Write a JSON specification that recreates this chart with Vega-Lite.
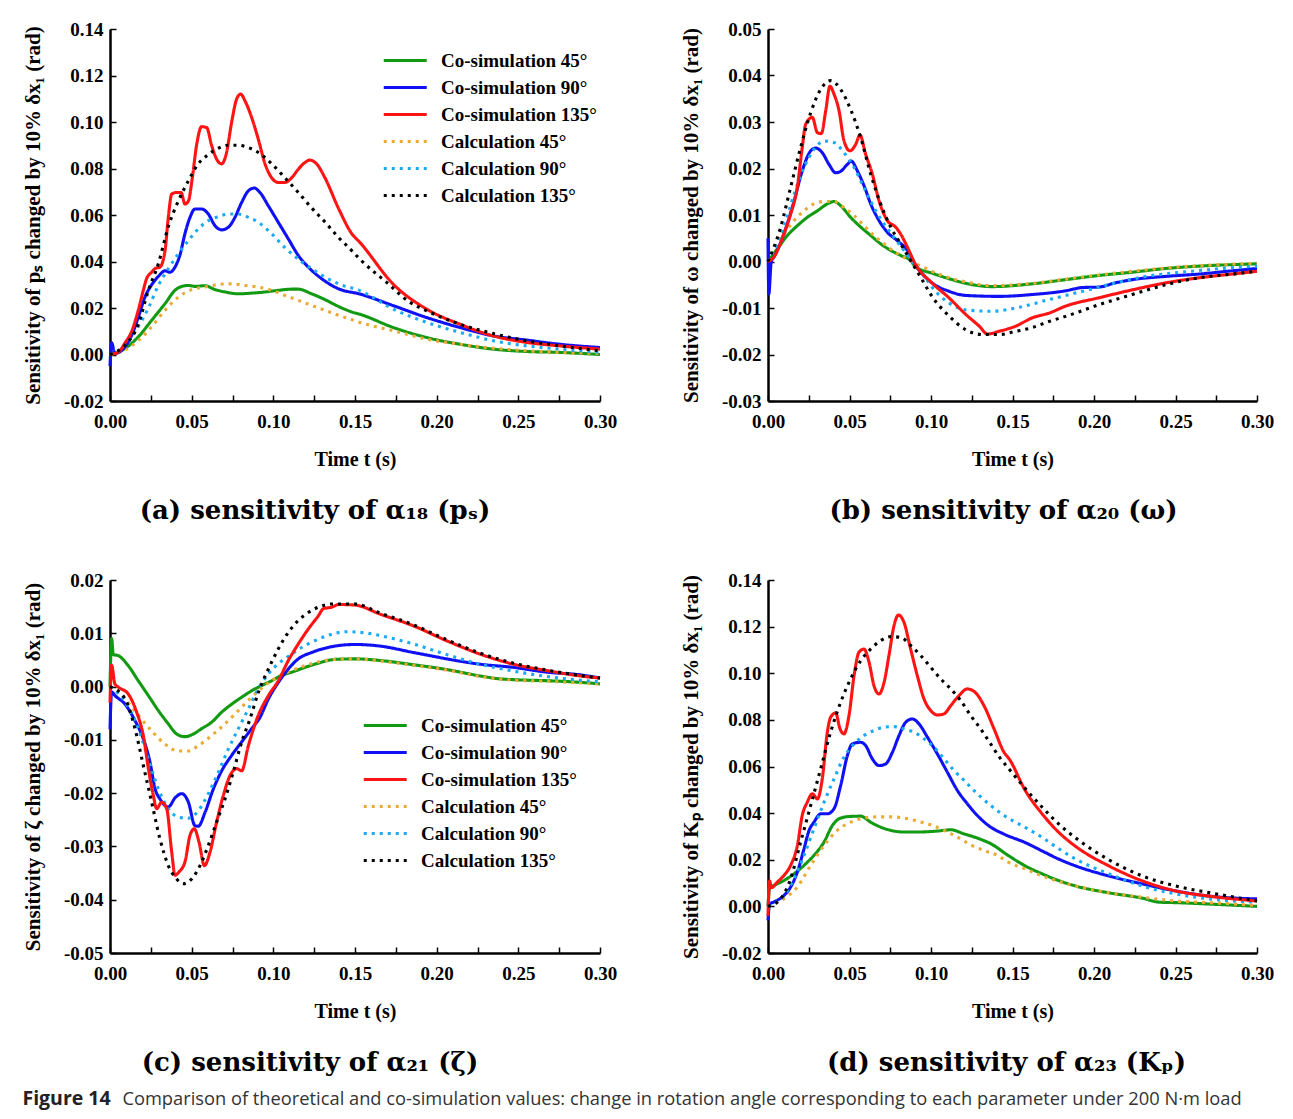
{
"$schema":"https://vega.github.io/schema/vega-lite/v6.json",
"padding":{"left":22,"top":20,"right":5,"bottom":8},
"background":"white",
"datasets":{
"a":[
{"s":"c45","t":0,"v":0},{"s":"c45","t":0.005,"v":0.001},{"s":"c45","t":0.0092,"v":0.0026},{"s":"c45","t":0.0173,"v":0.0076},{"s":"c45","t":0.0255,"v":0.0147},{"s":"c45","t":0.0337,"v":0.0219},{"s":"c45","t":0.0398,"v":0.0276},{"s":"c45","t":0.0439,"v":0.0293},{"s":"c45","t":0.048,"v":0.0297},{"s":"c45","t":0.052,"v":0.0293},{"s":"c45","t":0.0581,"v":0.0296},{"s":"c45","t":0.0643,"v":0.0279},{"s":"c45","t":0.0704,"v":0.0269},{"s":"c45","t":0.0786,"v":0.0261},{"s":"c45","t":0.0867,"v":0.0264},{"s":"c45","t":0.0949,"v":0.0269},{"s":"c45","t":0.103,"v":0.0276},{"s":"c45","t":0.1112,"v":0.0281},{"s":"c45","t":0.1153,"v":0.0281},{"s":"c45","t":0.1235,"v":0.0261},{"s":"c45","t":0.1316,"v":0.0236},{"s":"c45","t":0.1398,"v":0.0207},{"s":"c45","t":0.148,"v":0.0183},{"s":"c45","t":0.153,"v":0.0173},{"s":"c45","t":0.1735,"v":0.0116},{"s":"c45","t":0.1939,"v":0.0073},{"s":"c45","t":0.2143,"v":0.0044},{"s":"c45","t":0.2347,"v":0.0023},{"s":"c45","t":0.255,"v":0.0013},{"s":"c45","t":0.2755,"v":0.0009},{"s":"c45","t":0.3,"v":0.0},
{"s":"k45","t":0,"v":0},{"s":"k45","t":0.0092,"v":0.002},{"s":"k45","t":0.0173,"v":0.006},{"s":"k45","t":0.0255,"v":0.0119},{"s":"k45","t":0.0337,"v":0.019},{"s":"k45","t":0.0418,"v":0.0247},{"s":"k45","t":0.05,"v":0.0279},{"s":"k45","t":0.0581,"v":0.029},{"s":"k45","t":0.0663,"v":0.0301},{"s":"k45","t":0.0745,"v":0.0304},{"s":"k45","t":0.0827,"v":0.0297},{"s":"k45","t":0.0908,"v":0.029},{"s":"k45","t":0.099,"v":0.0276},{"s":"k45","t":0.1071,"v":0.0254},{"s":"k45","t":0.1153,"v":0.0233},{"s":"k45","t":0.1235,"v":0.0211},{"s":"k45","t":0.1316,"v":0.019},{"s":"k45","t":0.1398,"v":0.0169},{"s":"k45","t":0.148,"v":0.015},{"s":"k45","t":0.153,"v":0.0138},{"s":"k45","t":0.1735,"v":0.0102},{"s":"k45","t":0.1939,"v":0.0066},{"s":"k45","t":0.2143,"v":0.0044},{"s":"k45","t":0.2347,"v":0.0027},{"s":"k45","t":0.255,"v":0.0016},{"s":"k45","t":0.2755,"v":0.0009},{"s":"k45","t":0.3,"v":0.0005},
{"s":"c90","t":0,"v":-0.005},{"s":"c90","t":0.001,"v":0.005},{"s":"c90","t":0.003,"v":0.0005},{"s":"c90","t":0.0092,"v":0.0033},{"s":"c90","t":0.0133,"v":0.0083},{"s":"c90","t":0.0173,"v":0.016},{"s":"c90","t":0.0214,"v":0.0247},{"s":"c90","t":0.0255,"v":0.03},{"s":"c90","t":0.0296,"v":0.0336},{"s":"c90","t":0.0337,"v":0.036},{"s":"c90","t":0.0367,"v":0.0354},{"s":"c90","t":0.0398,"v":0.0376},{"s":"c90","t":0.0429,"v":0.043},{"s":"c90","t":0.0459,"v":0.052},{"s":"c90","t":0.049,"v":0.059},{"s":"c90","t":0.052,"v":0.0626},{"s":"c90","t":0.0561,"v":0.0626},{"s":"c90","t":0.0602,"v":0.0604},{"s":"c90","t":0.0643,"v":0.0554},{"s":"c90","t":0.0684,"v":0.0536},{"s":"c90","t":0.0724,"v":0.0547},{"s":"c90","t":0.0765,"v":0.059},{"s":"c90","t":0.0806,"v":0.0654},{"s":"c90","t":0.0847,"v":0.0704},{"s":"c90","t":0.0883,"v":0.0716},{"s":"c90","t":0.0918,"v":0.0697},{"s":"c90","t":0.0969,"v":0.064},{"s":"c90","t":0.103,"v":0.0569},{"s":"c90","t":0.1092,"v":0.0497},{"s":"c90","t":0.1153,"v":0.0426},{"s":"c90","t":0.1214,"v":0.0376},{"s":"c90","t":0.1296,"v":0.0326},{"s":"c90","t":0.1398,"v":0.0283},{"s":"c90","t":0.153,"v":0.026},{"s":"c90","t":0.1735,"v":0.021},{"s":"c90","t":0.1939,"v":0.0159},{"s":"c90","t":0.2143,"v":0.0116},{"s":"c90","t":0.2347,"v":0.008},{"s":"c90","t":0.255,"v":0.0062},{"s":"c90","t":0.2755,"v":0.0044},{"s":"c90","t":0.3,"v":0.003},
{"s":"k90","t":0,"v":0},{"s":"k90","t":0.0092,"v":0.004},{"s":"k90","t":0.0173,"v":0.012},{"s":"k90","t":0.0235,"v":0.02},{"s":"k90","t":0.0296,"v":0.0297},{"s":"k90","t":0.0357,"v":0.0369},{"s":"k90","t":0.0418,"v":0.0433},{"s":"k90","t":0.048,"v":0.049},{"s":"k90","t":0.054,"v":0.054},{"s":"k90","t":0.0602,"v":0.0576},{"s":"k90","t":0.0663,"v":0.0593},{"s":"k90","t":0.0724,"v":0.0604},{"s":"k90","t":0.0786,"v":0.0604},{"s":"k90","t":0.0847,"v":0.059},{"s":"k90","t":0.0908,"v":0.0569},{"s":"k90","t":0.099,"v":0.0519},{"s":"k90","t":0.1071,"v":0.046},{"s":"k90","t":0.1153,"v":0.041},{"s":"k90","t":0.1235,"v":0.0369},{"s":"k90","t":0.1316,"v":0.0333},{"s":"k90","t":0.1398,"v":0.0304},{"s":"k90","t":0.153,"v":0.0275},{"s":"k90","t":0.1735,"v":0.0195},{"s":"k90","t":0.1939,"v":0.0138},{"s":"k90","t":0.2143,"v":0.0095},{"s":"k90","t":0.2347,"v":0.0059},{"s":"k90","t":0.255,"v":0.0037},{"s":"k90","t":0.2755,"v":0.0023},{"s":"k90","t":0.3,"v":0.0009},
{"s":"c135","t":0,"v":0},{"s":"c135","t":0.0051,"v":0.001},{"s":"c135","t":0.0092,"v":0.005},{"s":"c135","t":0.0133,"v":0.01},{"s":"c135","t":0.0173,"v":0.019},{"s":"c135","t":0.0204,"v":0.0276},{"s":"c135","t":0.0224,"v":0.0326},{"s":"c135","t":0.0255,"v":0.0354},{"s":"c135","t":0.0276,"v":0.037},{"s":"c135","t":0.0306,"v":0.0376},{"s":"c135","t":0.0337,"v":0.0447},{"s":"c135","t":0.0357,"v":0.059},{"s":"c135","t":0.0378,"v":0.069},{"s":"c135","t":0.0408,"v":0.0697},{"s":"c135","t":0.0435,"v":0.0697},{"s":"c135","t":0.0459,"v":0.0647},{"s":"c135","t":0.048,"v":0.066},{"s":"c135","t":0.0504,"v":0.076},{"s":"c135","t":0.053,"v":0.09},{"s":"c135","t":0.0561,"v":0.098},{"s":"c135","t":0.0592,"v":0.0976},{"s":"c135","t":0.0622,"v":0.09},{"s":"c135","t":0.0653,"v":0.084},{"s":"c135","t":0.0684,"v":0.082},{"s":"c135","t":0.0714,"v":0.087},{"s":"c135","t":0.0745,"v":0.1},{"s":"c135","t":0.0776,"v":0.11},{"s":"c135","t":0.08,"v":0.112},{"s":"c135","t":0.0827,"v":0.109},{"s":"c135","t":0.0867,"v":0.102},{"s":"c135","t":0.0908,"v":0.0926},{"s":"c135","t":0.0949,"v":0.082},{"s":"c135","t":0.099,"v":0.076},{"s":"c135","t":0.103,"v":0.074},{"s":"c135","t":0.1071,"v":0.074},{"s":"c135","t":0.1112,"v":0.076},{"s":"c135","t":0.1153,"v":0.0797},{"s":"c135","t":0.1194,"v":0.0826},{"s":"c135","t":0.1224,"v":0.0836},{"s":"c135","t":0.1265,"v":0.082},{"s":"c135","t":0.1316,"v":0.076},{"s":"c135","t":0.1398,"v":0.063},{"s":"c135","t":0.148,"v":0.052},{"s":"c135","t":0.153,"v":0.0482},{"s":"c135","t":0.1735,"v":0.0302},{"s":"c135","t":0.1939,"v":0.0195},{"s":"c135","t":0.2143,"v":0.013},{"s":"c135","t":0.2347,"v":0.008},{"s":"c135","t":0.255,"v":0.0052},{"s":"c135","t":0.2755,"v":0.0037},{"s":"c135","t":0.3,"v":0.0023},
{"s":"k135","t":0,"v":0},{"s":"k135","t":0.0092,"v":0.004},{"s":"k135","t":0.0173,"v":0.013},{"s":"k135","t":0.0235,"v":0.0276},{"s":"k135","t":0.0296,"v":0.039},{"s":"k135","t":0.0357,"v":0.055},{"s":"k135","t":0.0418,"v":0.066},{"s":"k135","t":0.048,"v":0.0747},{"s":"k135","t":0.054,"v":0.082},{"s":"k135","t":0.0602,"v":0.086},{"s":"k135","t":0.0663,"v":0.0887},{"s":"k135","t":0.0724,"v":0.09},{"s":"k135","t":0.0786,"v":0.09},{"s":"k135","t":0.0847,"v":0.089},{"s":"k135","t":0.0908,"v":0.0869},{"s":"k135","t":0.099,"v":0.082},{"s":"k135","t":0.1071,"v":0.076},{"s":"k135","t":0.1153,"v":0.0697},{"s":"k135","t":0.1235,"v":0.063},{"s":"k135","t":0.1316,"v":0.057},{"s":"k135","t":0.1398,"v":0.0504},{"s":"k135","t":0.148,"v":0.0447},{"s":"k135","t":0.153,"v":0.041},{"s":"k135","t":0.1694,"v":0.031},{"s":"k135","t":0.1837,"v":0.0224},{"s":"k135","t":0.1939,"v":0.0188},{"s":"k135","t":0.2143,"v":0.013},{"s":"k135","t":0.2347,"v":0.009},{"s":"k135","t":0.255,"v":0.0059},{"s":"k135","t":0.2755,"v":0.0037},{"s":"k135","t":0.3,"v":0.0016}
],
"b":[
{"s":"c45","t":0,"v":0},{"s":"c45","t":0.0057,"v":0.0027},{"s":"c45","t":0.0119,"v":0.0056},{"s":"c45","t":0.018,"v":0.0077},{"s":"c45","t":0.0241,"v":0.0095},{"s":"c45","t":0.0303,"v":0.0109},{"s":"c45","t":0.0364,"v":0.0124},{"s":"c45","t":0.0405,"v":0.0129},{"s":"c45","t":0.0446,"v":0.012},{"s":"c45","t":0.0507,"v":0.0095},{"s":"c45","t":0.0569,"v":0.0074},{"s":"c45","t":0.063,"v":0.0056},{"s":"c45","t":0.0691,"v":0.0038},{"s":"c45","t":0.0753,"v":0.0024},{"s":"c45","t":0.0814,"v":0.0013},{"s":"c45","t":0.0875,"v":0.0002},{"s":"c45","t":0.0906,"v":-0.0012},{"s":"c45","t":0.1006,"v":-0.0025},{"s":"c45","t":0.111,"v":-0.0037},{"s":"c45","t":0.1214,"v":-0.0047},{"s":"c45","t":0.1374,"v":-0.0054},{"s":"c45","t":0.1622,"v":-0.0048},{"s":"c45","t":0.1826,"v":-0.0039},{"s":"c45","t":0.203,"v":-0.003},{"s":"c45","t":0.2235,"v":-0.0023},{"s":"c45","t":0.244,"v":-0.0015},{"s":"c45","t":0.2644,"v":-0.001},{"s":"c45","t":0.3,"v":-0.0005},
{"s":"k45","t":0,"v":0},{"s":"k45","t":0.0098,"v":0.0059},{"s":"k45","t":0.016,"v":0.0088},{"s":"k45","t":0.0221,"v":0.0109},{"s":"k45","t":0.0282,"v":0.0124},{"s":"k45","t":0.0344,"v":0.0129},{"s":"k45","t":0.0405,"v":0.0129},{"s":"k45","t":0.0466,"v":0.0116},{"s":"k45","t":0.0528,"v":0.0099},{"s":"k45","t":0.0589,"v":0.0077},{"s":"k45","t":0.065,"v":0.0056},{"s":"k45","t":0.0712,"v":0.0038},{"s":"k45","t":0.0773,"v":0.0022},{"s":"k45","t":0.0834,"v":0.0009},{"s":"k45","t":0.0896,"v":-0.0003},{"s":"k45","t":0.0957,"v":-0.0013},{"s":"k45","t":0.1039,"v":-0.0026},{"s":"k45","t":0.1121,"v":-0.0036},{"s":"k45","t":0.1214,"v":-0.0044},{"s":"k45","t":0.1374,"v":-0.0052},{"s":"k45","t":0.1622,"v":-0.0047},{"s":"k45","t":0.1826,"v":-0.0038},{"s":"k45","t":0.203,"v":-0.0029},{"s":"k45","t":0.2235,"v":-0.0021},{"s":"k45","t":0.244,"v":-0.0014},{"s":"k45","t":0.2644,"v":-0.0009},{"s":"k45","t":0.3,"v":-0.0004},
{"s":"c90","t":0,"v":0.005},{"s":"c90","t":0.0005,"v":-0.007},{"s":"c90","t":0.002,"v":0.0},{"s":"c90","t":0.0037,"v":0.001},{"s":"c90","t":0.0098,"v":0.006},{"s":"c90","t":0.016,"v":0.013},{"s":"c90","t":0.021,"v":0.0195},{"s":"c90","t":0.0262,"v":0.0238},{"s":"c90","t":0.0292,"v":0.0244},{"s":"c90","t":0.0333,"v":0.0234},{"s":"c90","t":0.0374,"v":0.0209},{"s":"c90","t":0.0415,"v":0.0191},{"s":"c90","t":0.0446,"v":0.0194},{"s":"c90","t":0.0487,"v":0.0209},{"s":"c90","t":0.0511,"v":0.0216},{"s":"c90","t":0.0548,"v":0.0195},{"s":"c90","t":0.0589,"v":0.0163},{"s":"c90","t":0.063,"v":0.0124},{"s":"c90","t":0.0681,"v":0.0088},{"s":"c90","t":0.0732,"v":0.0063},{"s":"c90","t":0.0793,"v":0.0045},{"s":"c90","t":0.0855,"v":0.0024},{"s":"c90","t":0.0906,"v":-0.0008},{"s":"c90","t":0.1006,"v":-0.0046},{"s":"c90","t":0.111,"v":-0.0064},{"s":"c90","t":0.1214,"v":-0.0073},{"s":"c90","t":0.1418,"v":-0.0075},{"s":"c90","t":0.1622,"v":-0.0071},{"s":"c90","t":0.1826,"v":-0.0063},{"s":"c90","t":0.193,"v":-0.0056},{"s":"c90","t":0.203,"v":-0.0055},{"s":"c90","t":0.213,"v":-0.0046},{"s":"c90","t":0.2235,"v":-0.0039},{"s":"c90","t":0.244,"v":-0.0032},{"s":"c90","t":0.2644,"v":-0.0027},{"s":"c90","t":0.2848,"v":-0.002},{"s":"c90","t":0.3,"v":-0.0015},
{"s":"k90","t":0,"v":0},{"s":"k90","t":0.0098,"v":0.0074},{"s":"k90","t":0.016,"v":0.0145},{"s":"k90","t":0.0221,"v":0.0202},{"s":"k90","t":0.0282,"v":0.0241},{"s":"k90","t":0.0344,"v":0.0259},{"s":"k90","t":0.0405,"v":0.0256},{"s":"k90","t":0.0466,"v":0.0234},{"s":"k90","t":0.0528,"v":0.0202},{"s":"k90","t":0.0589,"v":0.0159},{"s":"k90","t":0.065,"v":0.0116},{"s":"k90","t":0.0712,"v":0.0081},{"s":"k90","t":0.0773,"v":0.0052},{"s":"k90","t":0.0834,"v":0.0024},{"s":"k90","t":0.0896,"v":-0.0005},{"s":"k90","t":0.0957,"v":-0.003},{"s":"k90","t":0.1006,"v":-0.0055},{"s":"k90","t":0.111,"v":-0.0089},{"s":"k90","t":0.1214,"v":-0.0104},{"s":"k90","t":0.1374,"v":-0.0107},{"s":"k90","t":0.152,"v":-0.01},{"s":"k90","t":0.1724,"v":-0.0082},{"s":"k90","t":0.193,"v":-0.0064},{"s":"k90","t":0.2133,"v":-0.0046},{"s":"k90","t":0.2337,"v":-0.0031},{"s":"k90","t":0.254,"v":-0.0023},{"s":"k90","t":0.2746,"v":-0.0016},{"s":"k90","t":0.3,"v":-0.001},
{"s":"c135","t":0,"v":0},{"s":"c135","t":0.0037,"v":0.001},{"s":"c135","t":0.0098,"v":0.006},{"s":"c135","t":0.0139,"v":0.0102},{"s":"c135","t":0.018,"v":0.016},{"s":"c135","t":0.021,"v":0.0245},{"s":"c135","t":0.0231,"v":0.0295},{"s":"c135","t":0.0272,"v":0.031},{"s":"c135","t":0.0303,"v":0.0277},{"s":"c135","t":0.0327,"v":0.0275},{"s":"c135","t":0.0354,"v":0.0324},{"s":"c135","t":0.038,"v":0.0377},{"s":"c135","t":0.0405,"v":0.036},{"s":"c135","t":0.0436,"v":0.0324},{"s":"c135","t":0.0466,"v":0.026},{"s":"c135","t":0.0503,"v":0.0238},{"s":"c135","t":0.0538,"v":0.0252},{"s":"c135","t":0.0564,"v":0.0272},{"s":"c135","t":0.0599,"v":0.0231},{"s":"c135","t":0.064,"v":0.0188},{"s":"c135","t":0.0681,"v":0.0131},{"s":"c135","t":0.0732,"v":0.0088},{"s":"c135","t":0.0783,"v":0.0074},{"s":"c135","t":0.0814,"v":0.0059},{"s":"c135","t":0.0855,"v":0.0031},{"s":"c135","t":0.0906,"v":-0.0007},{"s":"c135","t":0.1006,"v":-0.0046},{"s":"c135","t":0.111,"v":-0.0078},{"s":"c135","t":0.1214,"v":-0.0114},{"s":"c135","t":0.1296,"v":-0.0139},{"s":"c135","t":0.1347,"v":-0.0156},{"s":"c135","t":0.1418,"v":-0.015},{"s":"c135","t":0.152,"v":-0.0139},{"s":"c135","t":0.1622,"v":-0.0121},{"s":"c135","t":0.1724,"v":-0.0111},{"s":"c135","t":0.1826,"v":-0.0096},{"s":"c135","t":0.203,"v":-0.0078},{"s":"c135","t":0.2235,"v":-0.0061},{"s":"c135","t":0.244,"v":-0.0046},{"s":"c135","t":0.2644,"v":-0.0035},{"s":"c135","t":0.2848,"v":-0.0027},{"s":"c135","t":0.3,"v":-0.0021},
{"s":"k135","t":0,"v":0},{"s":"k135","t":0.0078,"v":0.0074},{"s":"k135","t":0.0139,"v":0.016},{"s":"k135","t":0.02,"v":0.0245},{"s":"k135","t":0.0262,"v":0.032},{"s":"k135","t":0.0323,"v":0.037},{"s":"k135","t":0.0384,"v":0.0389},{"s":"k135","t":0.0446,"v":0.037},{"s":"k135","t":0.0507,"v":0.0327},{"s":"k135","t":0.0569,"v":0.0266},{"s":"k135","t":0.063,"v":0.0188},{"s":"k135","t":0.0691,"v":0.0124},{"s":"k135","t":0.0753,"v":0.0074},{"s":"k135","t":0.0814,"v":0.0038},{"s":"k135","t":0.0875,"v":0.0002},{"s":"k135","t":0.0937,"v":-0.0034},{"s":"k135","t":0.1006,"v":-0.0075},{"s":"k135","t":0.111,"v":-0.0117},{"s":"k135","t":0.1214,"v":-0.0147},{"s":"k135","t":0.1316,"v":-0.0157},{"s":"k135","t":0.1418,"v":-0.0157},{"s":"k135","t":0.152,"v":-0.015},{"s":"k135","t":0.1622,"v":-0.0142},{"s":"k135","t":0.1724,"v":-0.0129},{"s":"k135","t":0.1826,"v":-0.0118},{"s":"k135","t":0.203,"v":-0.0093},{"s":"k135","t":0.2235,"v":-0.0071},{"s":"k135","t":0.244,"v":-0.005},{"s":"k135","t":0.2644,"v":-0.0035},{"s":"k135","t":0.2848,"v":-0.0027},{"s":"k135","t":0.3,"v":-0.0021}
],
"c":[
{"s":"c45","t":0,"v":0},{"s":"c45","t":0.001,"v":0.009},{"s":"c45","t":0.002,"v":0.006},{"s":"c45","t":0.0051,"v":0.0058},{"s":"c45","t":0.0112,"v":0.0039},{"s":"c45","t":0.0173,"v":0.0011},{"s":"c45","t":0.0235,"v":-0.0017},{"s":"c45","t":0.0296,"v":-0.0045},{"s":"c45","t":0.0357,"v":-0.007},{"s":"c45","t":0.0408,"v":-0.0089},{"s":"c45","t":0.0459,"v":-0.0094},{"s":"c45","t":0.051,"v":-0.0089},{"s":"c45","t":0.0561,"v":-0.0079},{"s":"c45","t":0.0622,"v":-0.0067},{"s":"c45","t":0.0684,"v":-0.0048},{"s":"c45","t":0.0745,"v":-0.0033},{"s":"c45","t":0.0806,"v":-0.002},{"s":"c45","t":0.0867,"v":-0.0008},{"s":"c45","t":0.0929,"v":0.0002},{"s":"c45","t":0.099,"v":0.0011},{"s":"c45","t":0.1051,"v":0.0021},{"s":"c45","t":0.1112,"v":0.0027},{"s":"c45","t":0.1194,"v":0.0036},{"s":"c45","t":0.1276,"v":0.0044},{"s":"c45","t":0.1378,"v":0.0051},{"s":"c45","t":0.15,"v":0.0052},{"s":"c45","t":0.1653,"v":0.0049},{"s":"c45","t":0.1857,"v":0.0041},{"s":"c45","t":0.2061,"v":0.0032},{"s":"c45","t":0.2265,"v":0.002},{"s":"c45","t":0.237,"v":0.0015},{"s":"c45","t":0.247,"v":0.0013},{"s":"c45","t":0.2674,"v":0.0011},{"s":"c45","t":0.2878,"v":0.0008},{"s":"c45","t":0.3,"v":0.0005},
{"s":"k45","t":0,"v":0},{"s":"k45","t":0.0092,"v":-0.0023},{"s":"k45","t":0.0173,"v":-0.0054},{"s":"k45","t":0.0255,"v":-0.0083},{"s":"k45","t":0.0337,"v":-0.0108},{"s":"k45","t":0.0418,"v":-0.0121},{"s":"k45","t":0.048,"v":-0.0121},{"s":"k45","t":0.0541,"v":-0.0111},{"s":"k45","t":0.0622,"v":-0.0092},{"s":"k45","t":0.0704,"v":-0.007},{"s":"k45","t":0.0786,"v":-0.0045},{"s":"k45","t":0.0867,"v":-0.002},{"s":"k45","t":0.0949,"v":0.0002},{"s":"k45","t":0.1031,"v":0.0019},{"s":"k45","t":0.1112,"v":0.003},{"s":"k45","t":0.1235,"v":0.0043},{"s":"k45","t":0.1378,"v":0.0051},{"s":"k45","t":0.15,"v":0.0052},{"s":"k45","t":0.1653,"v":0.0048},{"s":"k45","t":0.1857,"v":0.004},{"s":"k45","t":0.2061,"v":0.0031},{"s":"k45","t":0.2265,"v":0.0019},{"s":"k45","t":0.247,"v":0.0012},{"s":"k45","t":0.2674,"v":0.001},{"s":"k45","t":0.3,"v":0.0005},
{"s":"c90","t":0,"v":-0.008},{"s":"c90","t":0.001,"v":-0.001},{"s":"c90","t":0.0031,"v":-0.0017},{"s":"c90","t":0.0092,"v":-0.0033},{"s":"c90","t":0.0153,"v":-0.0064},{"s":"c90","t":0.0204,"v":-0.0098},{"s":"c90","t":0.0245,"v":-0.0142},{"s":"c90","t":0.0276,"v":-0.0192},{"s":"c90","t":0.0306,"v":-0.0211},{"s":"c90","t":0.0357,"v":-0.0226},{"s":"c90","t":0.0398,"v":-0.0209},{"s":"c90","t":0.0439,"v":-0.0201},{"s":"c90","t":0.048,"v":-0.0217},{"s":"c90","t":0.052,"v":-0.0261},{"s":"c90","t":0.0541,"v":-0.0262},{"s":"c90","t":0.0582,"v":-0.0236},{"s":"c90","t":0.0633,"v":-0.0192},{"s":"c90","t":0.0684,"v":-0.0158},{"s":"c90","t":0.0745,"v":-0.0129},{"s":"c90","t":0.0806,"v":-0.0104},{"s":"c90","t":0.0867,"v":-0.0079},{"s":"c90","t":0.0918,"v":-0.0058},{"s":"c90","t":0.097,"v":-0.0023},{"s":"c90","t":0.1031,"v":0.0008},{"s":"c90","t":0.1092,"v":0.0033},{"s":"c90","t":0.1153,"v":0.0052},{"s":"c90","t":0.1235,"v":0.0064},{"s":"c90","t":0.1316,"v":0.0072},{"s":"c90","t":0.1378,"v":0.0076},{"s":"c90","t":0.15,"v":0.0079},{"s":"c90","t":0.1653,"v":0.0076},{"s":"c90","t":0.1857,"v":0.0064},{"s":"c90","t":0.196,"v":0.0058},{"s":"c90","t":0.2061,"v":0.0052},{"s":"c90","t":0.2265,"v":0.0042},{"s":"c90","t":0.247,"v":0.0036},{"s":"c90","t":0.2674,"v":0.0027},{"s":"c90","t":0.2878,"v":0.0022},{"s":"c90","t":0.3,"v":0.0016},
{"s":"k90","t":0,"v":0},{"s":"k90","t":0.0092,"v":-0.0029},{"s":"k90","t":0.0173,"v":-0.0079},{"s":"k90","t":0.0235,"v":-0.0136},{"s":"k90","t":0.0296,"v":-0.0192},{"s":"k90","t":0.0357,"v":-0.0229},{"s":"k90","t":0.0418,"v":-0.0245},{"s":"k90","t":0.048,"v":-0.0247},{"s":"k90","t":0.0541,"v":-0.0233},{"s":"k90","t":0.0602,"v":-0.0201},{"s":"k90","t":0.0663,"v":-0.0161},{"s":"k90","t":0.0725,"v":-0.0117},{"s":"k90","t":0.0786,"v":-0.0079},{"s":"k90","t":0.0847,"v":-0.0042},{"s":"k90","t":0.0908,"v":-0.0004},{"s":"k90","t":0.097,"v":0.0024},{"s":"k90","t":0.1031,"v":0.0043},{"s":"k90","t":0.1112,"v":0.0061},{"s":"k90","t":0.1194,"v":0.0077},{"s":"k90","t":0.1276,"v":0.0089},{"s":"k90","t":0.1378,"v":0.01},{"s":"k90","t":0.145,"v":0.0103},{"s":"k90","t":0.16,"v":0.0099},{"s":"k90","t":0.1694,"v":0.0093},{"s":"k90","t":0.1857,"v":0.008},{"s":"k90","t":0.2061,"v":0.006},{"s":"k90","t":0.2265,"v":0.0042},{"s":"k90","t":0.247,"v":0.0029},{"s":"k90","t":0.2674,"v":0.0019},{"s":"k90","t":0.2878,"v":0.0012},{"s":"k90","t":0.3,"v":0.0009},
{"s":"c135","t":0,"v":-0.003},{"s":"c135","t":0.001,"v":0.004},{"s":"c135","t":0.003,"v":0.0005},{"s":"c135","t":0.0051,"v":-0.0001},{"s":"c135","t":0.0112,"v":-0.0014},{"s":"c135","t":0.0163,"v":-0.0048},{"s":"c135","t":0.0204,"v":-0.0092},{"s":"c135","t":0.0235,"v":-0.0154},{"s":"c135","t":0.0265,"v":-0.0204},{"s":"c135","t":0.0286,"v":-0.0229},{"s":"c135","t":0.0316,"v":-0.0217},{"s":"c135","t":0.0347,"v":-0.0229},{"s":"c135","t":0.0378,"v":-0.0311},{"s":"c135","t":0.0398,"v":-0.0354},{"s":"c135","t":0.0422,"v":-0.0348},{"s":"c135","t":0.0459,"v":-0.0329},{"s":"c135","t":0.049,"v":-0.0279},{"s":"c135","t":0.0516,"v":-0.0267},{"s":"c135","t":0.0545,"v":-0.0292},{"s":"c135","t":0.0578,"v":-0.0336},{"s":"c135","t":0.0612,"v":-0.0311},{"s":"c135","t":0.0653,"v":-0.0254},{"s":"c135","t":0.0694,"v":-0.0204},{"s":"c135","t":0.0735,"v":-0.0167},{"s":"c135","t":0.0776,"v":-0.0154},{"s":"c135","t":0.0806,"v":-0.0158},{"s":"c135","t":0.0847,"v":-0.0111},{"s":"c135","t":0.0908,"v":-0.0054},{"s":"c135","t":0.097,"v":-0.0017},{"s":"c135","t":0.1031,"v":0.0011},{"s":"c135","t":0.1092,"v":0.0049},{"s":"c135","t":0.1153,"v":0.008},{"s":"c135","t":0.1214,"v":0.0108},{"s":"c135","t":0.1276,"v":0.0133},{"s":"c135","t":0.1306,"v":0.0146},{"s":"c135","t":0.1357,"v":0.0149},{"s":"c135","t":0.14,"v":0.0154},{"s":"c135","t":0.15,"v":0.0153},{"s":"c135","t":0.1653,"v":0.0136},{"s":"c135","t":0.1857,"v":0.0114},{"s":"c135","t":0.2061,"v":0.0086},{"s":"c135","t":0.2265,"v":0.0061},{"s":"c135","t":0.247,"v":0.0042},{"s":"c135","t":0.2674,"v":0.003},{"s":"c135","t":0.2878,"v":0.002},{"s":"c135","t":0.3,"v":0.0016},
{"s":"k135","t":0,"v":0},{"s":"k135","t":0.0092,"v":-0.0023},{"s":"k135","t":0.0153,"v":-0.0079},{"s":"k135","t":0.0204,"v":-0.0148},{"s":"k135","t":0.0255,"v":-0.0217},{"s":"k135","t":0.0306,"v":-0.0286},{"s":"k135","t":0.0357,"v":-0.0336},{"s":"k135","t":0.0408,"v":-0.0361},{"s":"k135","t":0.0449,"v":-0.037},{"s":"k135","t":0.05,"v":-0.0361},{"s":"k135","t":0.0551,"v":-0.0336},{"s":"k135","t":0.0602,"v":-0.0298},{"s":"k135","t":0.0653,"v":-0.0254},{"s":"k135","t":0.0704,"v":-0.0211},{"s":"k135","t":0.0755,"v":-0.016},{"s":"k135","t":0.0806,"v":-0.0104},{"s":"k135","t":0.0857,"v":-0.0061},{"s":"k135","t":0.0908,"v":-0.0011},{"s":"k135","t":0.097,"v":0.0033},{"s":"k135","t":0.1031,"v":0.0071},{"s":"k135","t":0.1092,"v":0.0102},{"s":"k135","t":0.1153,"v":0.0124},{"s":"k135","t":0.1214,"v":0.0139},{"s":"k135","t":0.1276,"v":0.0149},{"s":"k135","t":0.1357,"v":0.0155},{"s":"k135","t":0.15,"v":0.0155},{"s":"k135","t":0.1653,"v":0.0138},{"s":"k135","t":0.1857,"v":0.0116},{"s":"k135","t":0.2061,"v":0.0088},{"s":"k135","t":0.2265,"v":0.0063},{"s":"k135","t":0.247,"v":0.0044},{"s":"k135","t":0.2674,"v":0.0031},{"s":"k135","t":0.2878,"v":0.0021},{"s":"k135","t":0.3,"v":0.0016}
],
"d":[
{"s":"c45","t":0,"v":0},{"s":"c45","t":0.001,"v":0.008},{"s":"c45","t":0.0037,"v":0.009},{"s":"c45","t":0.0098,"v":0.0111},{"s":"c45","t":0.016,"v":0.014},{"s":"c45","t":0.0221,"v":0.0176},{"s":"c45","t":0.0282,"v":0.0219},{"s":"c45","t":0.0344,"v":0.0276},{"s":"c45","t":0.0395,"v":0.0347},{"s":"c45","t":0.0446,"v":0.0379},{"s":"c45","t":0.0507,"v":0.0386},{"s":"c45","t":0.0569,"v":0.0387},{"s":"c45","t":0.063,"v":0.0361},{"s":"c45","t":0.0691,"v":0.034},{"s":"c45","t":0.0753,"v":0.0326},{"s":"c45","t":0.0834,"v":0.0319},{"s":"c45","t":0.0916,"v":0.0319},{"s":"c45","t":0.0998,"v":0.0321},{"s":"c45","t":0.108,"v":0.0326},{"s":"c45","t":0.1121,"v":0.0329},{"s":"c45","t":0.1203,"v":0.0311},{"s":"c45","t":0.1284,"v":0.0293},{"s":"c45","t":0.1366,"v":0.0269},{"s":"c45","t":0.1479,"v":0.0216},{"s":"c45","t":0.158,"v":0.0173},{"s":"c45","t":0.1684,"v":0.0139},{"s":"c45","t":0.1786,"v":0.011},{"s":"c45","t":0.189,"v":0.0087},{"s":"c45","t":0.2093,"v":0.0058},{"s":"c45","t":0.2298,"v":0.0035},{"s":"c45","t":0.24,"v":0.0018},{"s":"c45","t":0.2503,"v":0.0016},{"s":"c45","t":0.2707,"v":0.001},{"s":"c45","t":0.3,"v":0.0},
{"s":"k45","t":0,"v":0},{"s":"k45","t":0.0098,"v":0.0033},{"s":"k45","t":0.018,"v":0.0083},{"s":"k45","t":0.0262,"v":0.0176},{"s":"k45","t":0.0344,"v":0.0261},{"s":"k45","t":0.0425,"v":0.0326},{"s":"k45","t":0.0507,"v":0.0361},{"s":"k45","t":0.0589,"v":0.0379},{"s":"k45","t":0.0671,"v":0.0384},{"s":"k45","t":0.0753,"v":0.0384},{"s":"k45","t":0.0834,"v":0.0379},{"s":"k45","t":0.0916,"v":0.0366},{"s":"k45","t":0.0998,"v":0.035},{"s":"k45","t":0.108,"v":0.0326},{"s":"k45","t":0.1162,"v":0.0297},{"s":"k45","t":0.1243,"v":0.0264},{"s":"k45","t":0.1325,"v":0.024},{"s":"k45","t":0.1407,"v":0.0219},{"s":"k45","t":0.1479,"v":0.0188},{"s":"k45","t":0.158,"v":0.016},{"s":"k45","t":0.1684,"v":0.013},{"s":"k45","t":0.189,"v":0.0087},{"s":"k45","t":0.2093,"v":0.0058},{"s":"k45","t":0.2298,"v":0.0039},{"s":"k45","t":0.2503,"v":0.0023},{"s":"k45","t":0.2707,"v":0.0016},{"s":"k45","t":0.3,"v":0.0004},
{"s":"c90","t":0,"v":-0.006},{"s":"c90","t":0.001,"v":0.001},{"s":"c90","t":0.0037,"v":0.0019},{"s":"c90","t":0.0098,"v":0.0047},{"s":"c90","t":0.0139,"v":0.0083},{"s":"c90","t":0.018,"v":0.0147},{"s":"c90","t":0.0221,"v":0.0247},{"s":"c90","t":0.0252,"v":0.0326},{"s":"c90","t":0.0282,"v":0.0361},{"s":"c90","t":0.0323,"v":0.0397},{"s":"c90","t":0.0364,"v":0.0397},{"s":"c90","t":0.0405,"v":0.0419},{"s":"c90","t":0.0446,"v":0.0519},{"s":"c90","t":0.0487,"v":0.0647},{"s":"c90","t":0.0517,"v":0.0697},{"s":"c90","t":0.0569,"v":0.0704},{"s":"c90","t":0.0599,"v":0.069},{"s":"c90","t":0.064,"v":0.0633},{"s":"c90","t":0.0681,"v":0.0604},{"s":"c90","t":0.0722,"v":0.0611},{"s":"c90","t":0.0763,"v":0.0661},{"s":"c90","t":0.0804,"v":0.0733},{"s":"c90","t":0.0845,"v":0.079},{"s":"c90","t":0.0886,"v":0.0804},{"s":"c90","t":0.0926,"v":0.0783},{"s":"c90","t":0.0978,"v":0.0726},{"s":"c90","t":0.1039,"v":0.0654},{"s":"c90","t":0.11,"v":0.0576},{"s":"c90","t":0.1162,"v":0.0497},{"s":"c90","t":0.1223,"v":0.044},{"s":"c90","t":0.1284,"v":0.039},{"s":"c90","t":0.1366,"v":0.034},{"s":"c90","t":0.1448,"v":0.031},{"s":"c90","t":0.158,"v":0.0273},{"s":"c90","t":0.1684,"v":0.0237},{"s":"c90","t":0.1786,"v":0.0202},{"s":"c90","t":0.189,"v":0.0173},{"s":"c90","t":0.2093,"v":0.013},{"s":"c90","t":0.2298,"v":0.0096},{"s":"c90","t":0.2503,"v":0.0066},{"s":"c90","t":0.2707,"v":0.0044},{"s":"c90","t":0.3,"v":0.0032},
{"s":"k90","t":0,"v":0},{"s":"k90","t":0.0098,"v":0.0047},{"s":"k90","t":0.016,"v":0.0119},{"s":"k90","t":0.0221,"v":0.0219},{"s":"k90","t":0.0282,"v":0.0333},{"s":"k90","t":0.0344,"v":0.0447},{"s":"k90","t":0.0405,"v":0.0547},{"s":"k90","t":0.0466,"v":0.064},{"s":"k90","t":0.0528,"v":0.0697},{"s":"k90","t":0.0589,"v":0.0733},{"s":"k90","t":0.065,"v":0.0754},{"s":"k90","t":0.0712,"v":0.0769},{"s":"k90","t":0.0773,"v":0.0771},{"s":"k90","t":0.0834,"v":0.0761},{"s":"k90","t":0.0896,"v":0.0747},{"s":"k90","t":0.0957,"v":0.0719},{"s":"k90","t":0.1018,"v":0.0683},{"s":"k90","t":0.108,"v":0.0633},{"s":"k90","t":0.1141,"v":0.0583},{"s":"k90","t":0.1203,"v":0.054},{"s":"k90","t":0.1284,"v":0.0483},{"s":"k90","t":0.1366,"v":0.0433},{"s":"k90","t":0.1448,"v":0.039},{"s":"k90","t":0.158,"v":0.0338},{"s":"k90","t":0.1684,"v":0.0295},{"s":"k90","t":0.1786,"v":0.0246},{"s":"k90","t":0.189,"v":0.0202},{"s":"k90","t":0.2093,"v":0.0139},{"s":"k90","t":0.2298,"v":0.0087},{"s":"k90","t":0.2503,"v":0.0053},{"s":"k90","t":0.2707,"v":0.0032},{"s":"k90","t":0.3,"v":0.0018},
{"s":"c135","t":0,"v":-0.004},{"s":"c135","t":0.001,"v":0.011},{"s":"c135","t":0.002,"v":0.008},{"s":"c135","t":0.0057,"v":0.0104},{"s":"c135","t":0.0098,"v":0.0133},{"s":"c135","t":0.0139,"v":0.0176},{"s":"c135","t":0.018,"v":0.0261},{"s":"c135","t":0.021,"v":0.039},{"s":"c135","t":0.0241,"v":0.0447},{"s":"c135","t":0.0272,"v":0.0483},{"s":"c135","t":0.0303,"v":0.0461},{"s":"c135","t":0.0333,"v":0.0547},{"s":"c135","t":0.0364,"v":0.0747},{"s":"c135","t":0.0384,"v":0.0811},{"s":"c135","t":0.0415,"v":0.083},{"s":"c135","t":0.0442,"v":0.0761},{"s":"c135","t":0.0466,"v":0.074},{"s":"c135","t":0.0497,"v":0.0819},{"s":"c135","t":0.0528,"v":0.099},{"s":"c135","t":0.0558,"v":0.109},{"s":"c135","t":0.0589,"v":0.1104},{"s":"c135","t":0.062,"v":0.1047},{"s":"c135","t":0.065,"v":0.0947},{"s":"c135","t":0.0681,"v":0.0911},{"s":"c135","t":0.0712,"v":0.0961},{"s":"c135","t":0.0742,"v":0.1076},{"s":"c135","t":0.0773,"v":0.1204},{"s":"c135","t":0.08,"v":0.125},{"s":"c135","t":0.0834,"v":0.1219},{"s":"c135","t":0.0875,"v":0.1104},{"s":"c135","t":0.0916,"v":0.099},{"s":"c135","t":0.0957,"v":0.089},{"s":"c135","t":0.0998,"v":0.084},{"s":"c135","t":0.1039,"v":0.0821},{"s":"c135","t":0.108,"v":0.0826},{"s":"c135","t":0.1121,"v":0.0861},{"s":"c135","t":0.1172,"v":0.0904},{"s":"c135","t":0.1223,"v":0.0933},{"s":"c135","t":0.1274,"v":0.0916},{"s":"c135","t":0.1325,"v":0.0861},{"s":"c135","t":0.1387,"v":0.0761},{"s":"c135","t":0.1448,"v":0.0661},{"s":"c135","t":0.1479,"v":0.0633},{"s":"c135","t":0.158,"v":0.0495},{"s":"c135","t":0.1684,"v":0.0395},{"s":"c135","t":0.1786,"v":0.0316},{"s":"c135","t":0.189,"v":0.0256},{"s":"c135","t":0.2093,"v":0.0173},{"s":"c135","t":0.2298,"v":0.0109},{"s":"c135","t":0.2503,"v":0.0066},{"s":"c135","t":0.2707,"v":0.0044},{"s":"c135","t":0.3,"v":0.0023},
{"s":"k135","t":0,"v":0},{"s":"k135","t":0.0078,"v":0.0033},{"s":"k135","t":0.0139,"v":0.0119},{"s":"k135","t":0.02,"v":0.0276},{"s":"k135","t":0.0262,"v":0.0433},{"s":"k135","t":0.0323,"v":0.059},{"s":"k135","t":0.0384,"v":0.0747},{"s":"k135","t":0.0446,"v":0.0876},{"s":"k135","t":0.0507,"v":0.0976},{"s":"k135","t":0.0569,"v":0.1054},{"s":"k135","t":0.063,"v":0.1104},{"s":"k135","t":0.0691,"v":0.114},{"s":"k135","t":0.0753,"v":0.1157},{"s":"k135","t":0.0814,"v":0.1154},{"s":"k135","t":0.0875,"v":0.1119},{"s":"k135","t":0.0937,"v":0.1076},{"s":"k135","t":0.0998,"v":0.1026},{"s":"k135","t":0.1059,"v":0.0976},{"s":"k135","t":0.1121,"v":0.0933},{"s":"k135","t":0.1182,"v":0.0883},{"s":"k135","t":0.1243,"v":0.0819},{"s":"k135","t":0.1305,"v":0.0761},{"s":"k135","t":0.1366,"v":0.0697},{"s":"k135","t":0.1427,"v":0.0633},{"s":"k135","t":0.1479,"v":0.0589},{"s":"k135","t":0.158,"v":0.0504},{"s":"k135","t":0.1684,"v":0.0424},{"s":"k135","t":0.1786,"v":0.0352},{"s":"k135","t":0.189,"v":0.0292},{"s":"k135","t":0.2093,"v":0.0199},{"s":"k135","t":0.2298,"v":0.013},{"s":"k135","t":0.2503,"v":0.0087},{"s":"k135","t":0.2707,"v":0.0059},{"s":"k135","t":0.3,"v":0.0023}
]
},
"spacing":47,
"title":{"text":"Comparison of theoretical and co-simulation values: change in rotation angle corresponding to each parameter under 200 N·m load","orient":"bottom","anchor":"start","font":"Open Sans","fontWeight":"normal","fontSize":18.3,"color":"#333333","dx":100,"dy":-22,"offset":4},
"vconcat":[
{"spacing":63,"hconcat":[
{"width":490,"height":372,"data":{"name":"a"},
"title":{"text":"(a) sensitivity of α₁₈  (pₛ)","dx":-40},
"mark":{"type":"line","strokeWidth":3.1,"interpolate":"monotone"},
"encoding":{
"x":{"field":"t","type":"quantitative","scale":{"domain":[0,0.3],"nice":false,"zero":false},"axis":{"title":"Time t (s)","values":[0,0.025,0.05,0.075,0.1,0.125,0.15,0.175,0.2,0.225,0.25,0.275,0.3],"labelExpr":"round(datum.value*40)%2==0 ? format(datum.value,'.2f') : ''"}},
"y":{"field":"v","type":"quantitative","scale":{"domain":[-0.02,0.14],"nice":false,"zero":false},"axis":{"title":"Sensitivity of pₛ changed by 10%  δx₁ (rad)","values":[-0.02,0,0.02,0.04,0.06,0.08,0.1,0.12,0.14]}},
"color":{"field":"s","type":"nominal","scale":{"domain":["c45","c90","c135","k45","k90","k135"],"range":["#139a13","#1010f5","#ff1414","#eba935","#1aaaf5","#000000"]},"legend":{"legendX":272,"legendY":19,"labelExpr":"datum.label=='c45'?'Co-simulation 45°':datum.label=='c90'?'Co-simulation 90°':datum.label=='c135'?'Co-simulation 135°':datum.label=='k45'?'Calculation 45°':datum.label=='k90'?'Calculation 90°':'Calculation 135°'"}},
"strokeDash":{"field":"s","type":"nominal","scale":{"domain":["c45","c90","c135","k45","k90","k135"],"range":[[1,0],[1,0],[1,0],[3,5],[3,5],[3,5]]},"legend":{"legendX":272,"legendY":19,"labelExpr":"datum.label=='c45'?'Co-simulation 45°':datum.label=='c90'?'Co-simulation 90°':datum.label=='c135'?'Co-simulation 135°':datum.label=='k45'?'Calculation 45°':datum.label=='k90'?'Calculation 90°':'Calculation 135°'"}}
}},
{"width":489,"height":372,"data":{"name":"b"},
"title":{"text":"(b) sensitivity of α₂₀  (ω)","dx":-9},
"mark":{"type":"line","strokeWidth":3.1,"interpolate":"monotone"},
"encoding":{
"x":{"field":"t","type":"quantitative","scale":{"domain":[0,0.3],"nice":false,"zero":false},"axis":{"title":"Time t (s)","values":[0,0.025,0.05,0.075,0.1,0.125,0.15,0.175,0.2,0.225,0.25,0.275,0.3],"labelExpr":"round(datum.value*40)%2==0 ? format(datum.value,'.2f') : ''"}},
"y":{"field":"v","type":"quantitative","scale":{"domain":[-0.03,0.05],"nice":false,"zero":false},"axis":{"title":"Sensitivity of ω changed by 10%  δx₁ (rad)","values":[-0.03,-0.02,-0.01,0,0.01,0.02,0.03,0.04,0.05]}},
"color":{"field":"s","type":"nominal","scale":{"domain":["c45","c90","c135","k45","k90","k135"],"range":["#139a13","#1010f5","#ff1414","#eba935","#1aaaf5","#000000"]},"legend":{"legendX":274,"legendY":19,"labelExpr":"datum.label=='c45'?'Co-simulation 45°':datum.label=='c90'?'Co-simulation 90°':datum.label=='c135'?'Co-simulation 135°':datum.label=='k45'?'Calculation 45°':datum.label=='k90'?'Calculation 90°':'Calculation 135°'"}},
"strokeDash":{"field":"s","type":"nominal","scale":{"domain":["c45","c90","c135","k45","k90","k135"],"range":[[1,0],[1,0],[1,0],[3,5],[3,5],[3,5]]},"legend":{"legendX":274,"legendY":19,"labelExpr":"datum.label=='c45'?'Co-simulation 45°':datum.label=='c90'?'Co-simulation 90°':datum.label=='c135'?'Co-simulation 135°':datum.label=='k45'?'Calculation 45°':datum.label=='k90'?'Calculation 90°':'Calculation 135°'"}}
}}
]},
{"spacing":63,
"title":{"text":"Figure 14","orient":"bottom","anchor":"start","font":"Open Sans","fontWeight":"bold","fontSize":19.5,"color":"#222222","offset":14},
"hconcat":[
{"width":490,"height":373,"data":{"name":"c"},
"title":{"text":"(c) sensitivity of α₂₁  (ζ)","dx":-45},
"mark":{"type":"line","strokeWidth":3.1,"interpolate":"monotone"},
"encoding":{
"x":{"field":"t","type":"quantitative","scale":{"domain":[0,0.3],"nice":false,"zero":false},"axis":{"title":"Time t (s)","values":[0,0.025,0.05,0.075,0.1,0.125,0.15,0.175,0.2,0.225,0.25,0.275,0.3],"labelExpr":"round(datum.value*40)%2==0 ? format(datum.value,'.2f') : ''"}},
"y":{"field":"v","type":"quantitative","scale":{"domain":[-0.05,0.02],"nice":false,"zero":false},"axis":{"title":"Sensitivity of ζ changed by 10%  δx₁ (rad)","values":[-0.05,-0.04,-0.03,-0.02,-0.01,0,0.01,0.02]}},
"color":{"field":"s","type":"nominal","scale":{"domain":["c45","c90","c135","k45","k90","k135"],"range":["#139a13","#1010f5","#ff1414","#eba935","#1aaaf5","#000000"]},"legend":{"legendX":252,"legendY":133,"labelExpr":"datum.label=='c45'?'Co-simulation 45°':datum.label=='c90'?'Co-simulation 90°':datum.label=='c135'?'Co-simulation 135°':datum.label=='k45'?'Calculation 45°':datum.label=='k90'?'Calculation 90°':'Calculation 135°'"}},
"strokeDash":{"field":"s","type":"nominal","scale":{"domain":["c45","c90","c135","k45","k90","k135"],"range":[[1,0],[1,0],[1,0],[3,5],[3,5],[3,5]]},"legend":{"legendX":252,"legendY":133,"labelExpr":"datum.label=='c45'?'Co-simulation 45°':datum.label=='c90'?'Co-simulation 90°':datum.label=='c135'?'Co-simulation 135°':datum.label=='k45'?'Calculation 45°':datum.label=='k90'?'Calculation 90°':'Calculation 135°'"}}
}},
{"width":489,"height":373,"data":{"name":"d"},
"title":{"text":"(d) sensitivity of α₂₃  (Kₚ)","dx":-6},
"mark":{"type":"line","strokeWidth":3.1,"interpolate":"monotone"},
"encoding":{
"x":{"field":"t","type":"quantitative","scale":{"domain":[0,0.3],"nice":false,"zero":false},"axis":{"title":"Time t (s)","values":[0,0.025,0.05,0.075,0.1,0.125,0.15,0.175,0.2,0.225,0.25,0.275,0.3],"labelExpr":"round(datum.value*40)%2==0 ? format(datum.value,'.2f') : ''"}},
"y":{"field":"v","type":"quantitative","scale":{"domain":[-0.02,0.14],"nice":false,"zero":false},"axis":{"title":"Sensitivity of Kₚ changed by 10%  δx₁ (rad)","values":[-0.02,0,0.02,0.04,0.06,0.08,0.1,0.12,0.14]}},
"color":{"field":"s","type":"nominal","scale":{"domain":["c45","c90","c135","k45","k90","k135"],"range":["#139a13","#1010f5","#ff1414","#eba935","#1aaaf5","#000000"]},"legend":{"legendX":274,"legendY":19,"labelExpr":"datum.label=='c45'?'Co-simulation 45°':datum.label=='c90'?'Co-simulation 90°':datum.label=='c135'?'Co-simulation 135°':datum.label=='k45'?'Calculation 45°':datum.label=='k90'?'Calculation 90°':'Calculation 135°'"}},
"strokeDash":{"field":"s","type":"nominal","scale":{"domain":["c45","c90","c135","k45","k90","k135"],"range":[[1,0],[1,0],[1,0],[3,5],[3,5],[3,5]]},"legend":{"legendX":274,"legendY":19,"labelExpr":"datum.label=='c45'?'Co-simulation 45°':datum.label=='c90'?'Co-simulation 90°':datum.label=='c135'?'Co-simulation 135°':datum.label=='k45'?'Calculation 45°':datum.label=='k90'?'Calculation 90°':'Calculation 135°'"}}
}}
]}
],
"resolve":{"scale":{"color":"independent","strokeDash":"independent"}},
"config":{
"font":"Liberation Serif",
"view":{"stroke":null},
"axis":{"grid":false,"domainColor":"#000000","domainWidth":2.5,"tickColor":"#000000","tickWidth":1.5,"tickSize":-6,"labelPadding":13,"labelFont":"Liberation Serif","labelFontWeight":"bold","labelFontSize":19,"labelColor":"#000000","labelOverlap":false,"labelFlush":false,"titleFont":"Liberation Serif","titleFontWeight":"bold","titleColor":"#000000"},
"axisX":{"titleFontSize":20,"titlePadding":18,"labelPadding":17},
"axisY":{"titleFontSize":21,"titlePadding":20,"labelExpr":"replace(format(datum.value,'.2f'),'−','-')"},
"legend":{"orient":"none","title":null,"symbolType":"M-1,0H3","symbolStrokeWidth":3,"symbolSize":462,"rowPadding":4,"labelOffset":34,"labelFont":"Liberation Serif","labelFontWeight":"bold","labelFontSize":19,"labelColor":"#000000","padding":0},
"title":{"orient":"bottom","font":"DejaVu Serif","fontWeight":"bold","fontSize":26,"color":"#000000","offset":29,"anchor":"middle"}
}
}
